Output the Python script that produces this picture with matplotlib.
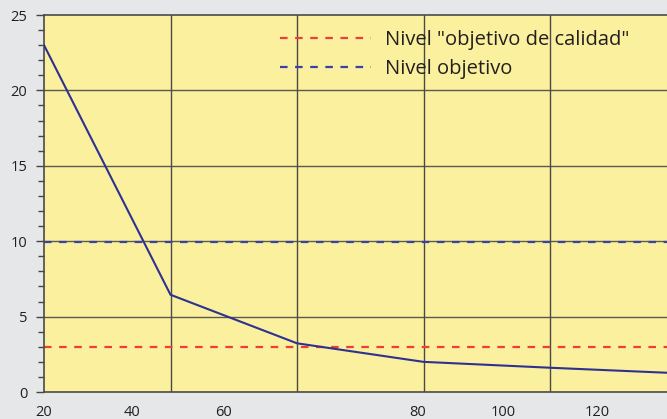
import matplotlib
matplotlib.use("Agg")
import matplotlib.pyplot as plt
from matplotlib.ticker import MultipleLocator

# Concentration curve (one step per column of the grid)
step = [0, 1, 2, 3, 4, 5]
nivel = [23.0, 6.45, 3.23, 2.0, 1.61, 1.25]

# Reference levels
nivel_calidad = 3.0
nivel_objetivo = 10.0

# Bottom axis labels
x_labels = ["20", "40", "60", "80", "100", "120"]
x_label_pos = [0.0, 0.696, 1.415, 2.957, 3.628, 4.372]

plt.rcParams["font.family"] = ["Open Sans", "DejaVu Sans"]

fig = plt.figure(figsize=(6.67, 4.19), dpi=100, facecolor="#e6e7e8")
ax = fig.add_axes([0.066, 0.0644, 0.934, 0.8998])
ax.set_facecolor("#fbf09d")

ax.set_xlim(0, 4.925)
ax.set_ylim(0, 25)

# grid
for v in [5, 10, 15, 20]:
    ax.axhline(v, color="#5a5a50", lw=1.0, zorder=1)
for v in step[1:5]:
    ax.axvline(v, color="#4a4a4a", lw=1.0, zorder=1)

ax.axhline(nivel_calidad, color="#ee3d3a", lw=1.6, ls=(0, (3.4, 3.4)), zorder=2,
           label='Nivel "objetivo de calidad"')
ax.axhline(nivel_objetivo - 0.07, color="#3a3fae", lw=1.6, ls=(0, (3.4, 3.4)), zorder=2,
           label="Nivel objetivo")
ax.plot(step, nivel, color="#2e3192", lw=1.5, zorder=3, clip_on=True)

ax.yaxis.set_major_locator(MultipleLocator(5))
ax.yaxis.set_minor_locator(MultipleLocator(1))
ax.tick_params(axis="y", which="major", length=6, width=1, color="#444444",
               labelsize=10.5, labelcolor="#231f20", pad=6)
ax.tick_params(axis="y", which="minor", length=4, width=1, color="#444444")
ax.set_xticks(x_label_pos)
ax.set_xticklabels(x_labels)
ax.tick_params(axis="x", length=0, labelsize=10.5, labelcolor="#231f20", pad=9)

for s in ["left", "bottom", "top"]:
    ax.spines[s].set_color("#4a4a4a")
    ax.spines[s].set_linewidth(1.2)
ax.spines["right"].set_visible(False)

leg = ax.legend(loc="upper left", bbox_to_anchor=(0.379, 0.961), frameon=False,
                fontsize=14.5, handlelength=4.5, handletextpad=0.7, labelspacing=0.45,
                borderaxespad=0.0, borderpad=0.0)
for t in leg.get_texts():
    t.set_color("#231f20")

fig.savefig("out.png", dpi=100, facecolor=fig.get_facecolor())
